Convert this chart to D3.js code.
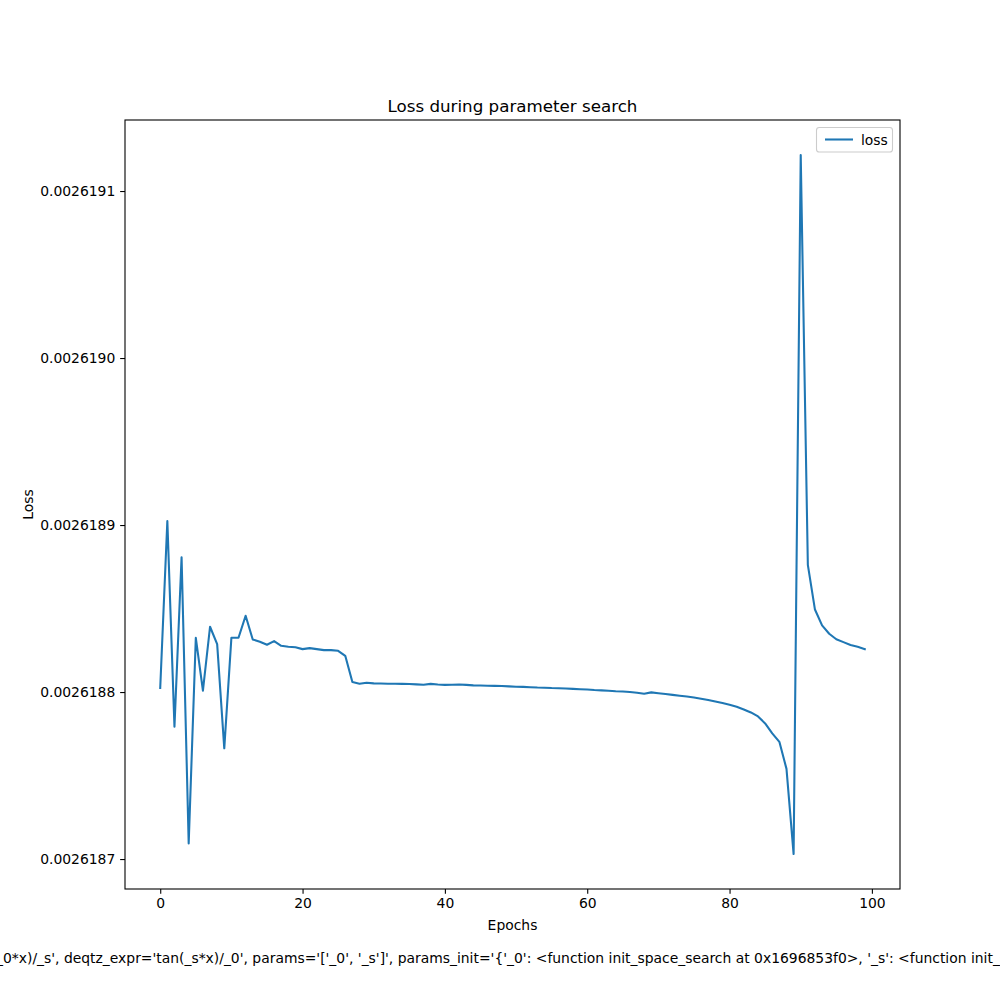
<!DOCTYPE html>
<html>
<head>
<meta charset="utf-8">
<script src="https://cdn.jsdelivr.net/npm/d3@7"></script>
<style>
  html, body { margin: 0; padding: 0; background: #fff; }
  svg { display: block; font-family: "DejaVu Sans", sans-serif; }
</style>
</head>
<body>
<svg id="chart" width="1000" height="1000"></svg>
<script>
// ---- data ----
const epochs = d3.range(0, 100);
const loss = [
  0.0026188024, 0.0026189024, 0.0026187792, 0.0026188807, 0.0026187094,
  0.0026188325, 0.0026188008, 0.0026188391, 0.0026188287, 0.0026187663,
  0.0026188325, 0.0026188325, 0.0026188457, 0.0026188315, 0.0026188301,
  0.0026188283, 0.0026188305, 0.0026188277, 0.0026188271, 0.0026188268,
  0.0026188257, 0.0026188263, 0.0026188257, 0.0026188251, 0.0026188251,
  0.0026188247, 0.0026188217, 0.0026188060, 0.0026188050, 0.0026188056,
  0.0026188052, 0.0026188051, 0.0026188050, 0.0026188050, 0.0026188049,
  0.0026188048, 0.0026188046, 0.0026188044, 0.0026188049, 0.0026188045,
  0.0026188043, 0.0026188044, 0.0026188045, 0.0026188043, 0.0026188040,
  0.0026188039, 0.0026188038, 0.0026188037, 0.0026188036, 0.0026188034,
  0.0026188032, 0.0026188031, 0.0026188029, 0.0026188027, 0.0026188026,
  0.0026188024, 0.0026188023, 0.0026188021, 0.0026188019, 0.0026188017,
  0.0026188015, 0.0026188012, 0.0026188010, 0.0026188008, 0.0026188005,
  0.0026188003, 0.0026188000, 0.0026187996, 0.0026187990, 0.0026187998,
  0.0026187993, 0.0026187988, 0.0026187983, 0.0026187978, 0.0026187973,
  0.0026187967, 0.0026187960, 0.0026187952, 0.0026187943, 0.0026187934,
  0.0026187924, 0.0026187912, 0.0026187896, 0.0026187878, 0.0026187854,
  0.0026187812, 0.0026187753, 0.0026187702, 0.0026187540, 0.0026187030,
  0.0026191216, 0.0026188762, 0.0026188494, 0.0026188399, 0.0026188349,
  0.0026188316, 0.0026188299, 0.0026188282, 0.0026188271, 0.0026188257
];
const xTicks = [0, 20, 40, 60, 80, 100];
const yTicks = [0.0026187, 0.0026188, 0.0026189, 0.0026190, 0.0026191];
const yTickLabels = ["0.0026187", "0.0026188", "0.0026189", "0.0026190", "0.0026191"];
const titleText = "Loss during parameter search";
const xLabelText = "Epochs";
const yLabelText = "Loss";
const seriesName = "loss";
const footnotePrefix = "ParameterSearch(qtz_expr='atan(_";
const footnoteText = footnotePrefix + "0*x)/_s', deqtz_expr='tan(_s*x)/_0', params='['_0', '_s']', params_init='{'_0': <function init_space_search at 0x1696853f0>, '_s': <function init_space_search at 0x1696853f0>}', loss_fn='mse', epochs=100)";

// ---- layout ----
const L = 125, R = 900, T = 120, B = 889;
const lineColor = "#1f77b4";

const svg = d3.select("#chart");

const x = d3.scaleLinear().domain([-4.95, 103.95]).range([L, R]);
const yMin = d3.min(loss), yMax = d3.max(loss);
const pad = (yMax - yMin) * 0.05;
const y = d3.scaleLinear().domain([yMin - pad, yMax + pad]).range([B, T]);

// clip
svg.append("defs").append("clipPath").attr("id", "clip")
  .append("rect").attr("x", L).attr("y", T).attr("width", R - L).attr("height", B - T);

// line
const line = d3.line().x((d, i) => x(epochs[i])).y(d => y(d));
svg.append("path")
  .datum(loss)
  .attr("clip-path", "url(#clip)")
  .attr("fill", "none")
  .attr("stroke", lineColor)
  .attr("stroke-width", 2.08)
  .attr("stroke-linejoin", "round")
  .attr("stroke-linecap", "square")
  .attr("d", line);

// axes
const tickLen = 4.86;
const xAxis = d3.axisBottom(x).tickValues(xTicks).tickSize(tickLen).tickPadding(4.4).tickFormat(d3.format("d"));
const yAxis = d3.axisLeft(y).tickValues(yTicks).tickSize(tickLen).tickPadding(4.86)
  .tickFormat((d, i) => yTickLabels[i]);

const gx = svg.append("g").attr("transform", `translate(0,${B})`).call(xAxis);
const gy = svg.append("g").attr("transform", `translate(${L},0)`).call(yAxis);
[gx, gy].forEach(g => {
  g.select(".domain").remove();
  g.selectAll(".tick line").attr("stroke", "#000").attr("stroke-width", 1.1);
  g.selectAll(".tick text").attr("fill", "#000")
    .style("font-family", "'DejaVu Sans', sans-serif").style("font-size", "13.9px");
});

// frame (spines)
svg.append("rect")
  .attr("x", L).attr("y", T).attr("width", R - L).attr("height", B - T)
  .attr("fill", "none").attr("stroke", "#000").attr("stroke-width", 1.1);

// title
svg.append("text")
  .attr("x", (L + R) / 2).attr("y", 112)
  .attr("text-anchor", "middle")
  .style("font-size", "16.7px")
  .text(titleText);

// axis labels
svg.append("text")
  .attr("x", (L + R) / 2).attr("y", 930)
  .attr("text-anchor", "middle")
  .style("font-size", "13.9px")
  .text(xLabelText);

svg.append("text")
  .attr("transform", `translate(33,${(T + B) / 2}) rotate(-90)`)
  .attr("text-anchor", "middle")
  .style("font-size", "13.9px")
  .text(yLabelText);

// legend
const lg = svg.append("g");
lg.append("rect")
  .attr("x", 816.5).attr("y", 127.5).attr("width", 76).attr("height", 24.5)
  .attr("rx", 2.8).attr("ry", 2.8)
  .attr("fill", "#fff").attr("fill-opacity", 0.8)
  .attr("stroke", "#cccccc").attr("stroke-width", 1.1);
lg.append("line")
  .attr("x1", 825).attr("x2", 853).attr("y1", 139.5).attr("y2", 139.5)
  .attr("stroke", lineColor).attr("stroke-width", 2.08);
lg.append("text")
  .attr("x", 861).attr("y", 144.5)
  .style("font-size", "13.9px")
  .text(seriesName);

// footnote (cut off at both sides, as in the reference)
const fn = svg.append("text")
  .attr("y", 963)
  .attr("x", 0)
  .style("font-size", "13.9px")
  .text(footnoteText);
let off = 0;
try { off = fn.node().getSubStringLength(0, footnotePrefix.length); } catch (e) { off = 0; }
fn.attr("x", 3 - off);
</script>
</body>
</html>
